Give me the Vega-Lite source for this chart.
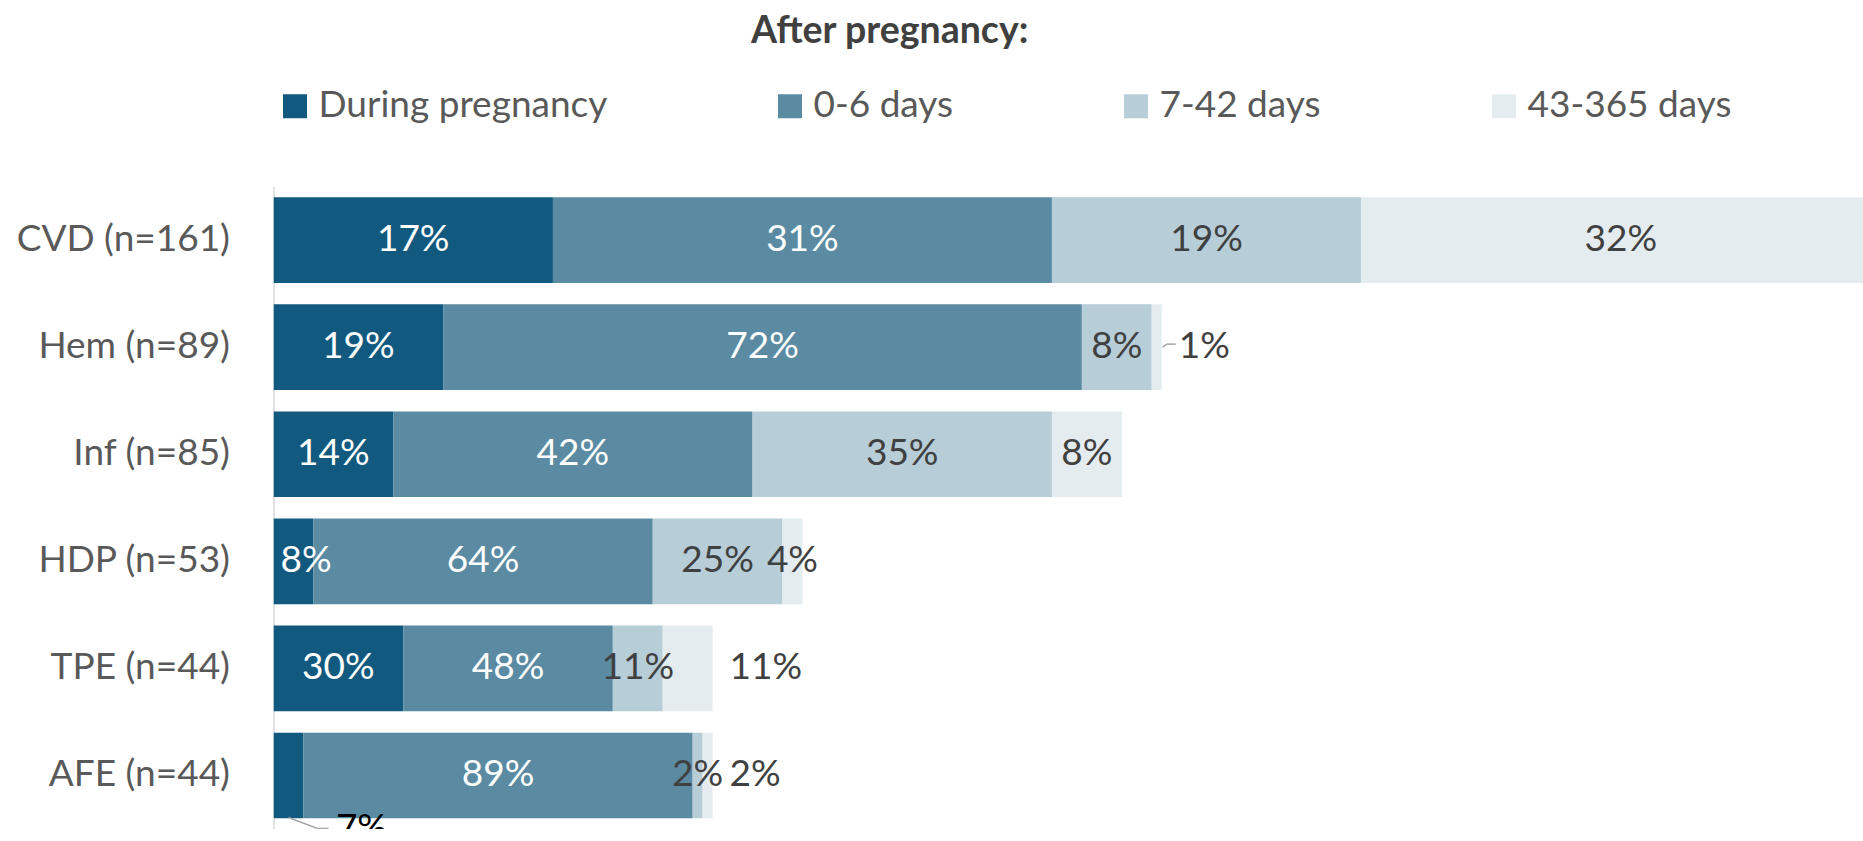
{
  "$schema": "https://vega.github.io/schema/vega-lite/v6.json",
  "width": 1589.5,
  "height": 642.5,
  "autosize": {"type": "none"},
  "padding": {"left": 273.5, "top": 186.5, "right": 0, "bottom": 0},
  "background": "white",
  "config": {"view": {"stroke": null}, "font": "Lato"},
  "title": {"text": "After pregnancy:", "anchor": "start", "frame": "group", "dx": 477.5, "offset": 37, "fontSize": 37.5, "fontWeight": "bold", "color": "#404040", "font": "Lato"},
  "data": {"values": [
    {"cause": "CVD (n=161)", "period": "During pregnancy", "order": 1, "n": 28, "label": "17%", "placement": "inside", "bg": "dark"},
    {"cause": "CVD (n=161)", "period": "0-6 days", "order": 2, "n": 50, "label": "31%", "placement": "inside", "bg": "dark"},
    {"cause": "CVD (n=161)", "period": "7-42 days", "order": 3, "n": 31, "label": "19%", "placement": "inside", "bg": "light"},
    {"cause": "CVD (n=161)", "period": "43-365 days", "order": 4, "n": 52, "label": "32%", "placement": "inside", "bg": "light"},
    {"cause": "Hem (n=89)", "period": "During pregnancy", "order": 1, "n": 17, "label": "19%", "placement": "inside", "bg": "dark"},
    {"cause": "Hem (n=89)", "period": "0-6 days", "order": 2, "n": 64, "label": "72%", "placement": "inside", "bg": "dark"},
    {"cause": "Hem (n=89)", "period": "7-42 days", "order": 3, "n": 7, "label": "8%", "placement": "inside", "bg": "light"},
    {"cause": "Hem (n=89)", "period": "43-365 days", "order": 4, "n": 1, "label": "1%", "placement": "outside", "bg": "light"},
    {"cause": "Inf (n=85)", "period": "During pregnancy", "order": 1, "n": 12, "label": "14%", "placement": "inside", "bg": "dark"},
    {"cause": "Inf (n=85)", "period": "0-6 days", "order": 2, "n": 36, "label": "42%", "placement": "inside", "bg": "dark"},
    {"cause": "Inf (n=85)", "period": "7-42 days", "order": 3, "n": 30, "label": "35%", "placement": "inside", "bg": "light"},
    {"cause": "Inf (n=85)", "period": "43-365 days", "order": 4, "n": 7, "label": "8%", "placement": "inside", "bg": "light"},
    {"cause": "HDP (n=53)", "period": "During pregnancy", "order": 1, "n": 4, "label": "8%", "placement": "start", "bg": "dark"},
    {"cause": "HDP (n=53)", "period": "0-6 days", "order": 2, "n": 34, "label": "64%", "placement": "inside", "bg": "dark"},
    {"cause": "HDP (n=53)", "period": "7-42 days", "order": 3, "n": 13, "label": "25%", "placement": "inside", "bg": "light"},
    {"cause": "HDP (n=53)", "period": "43-365 days", "order": 4, "n": 2, "label": "4%", "placement": "inside", "bg": "light"},
    {"cause": "TPE (n=44)", "period": "During pregnancy", "order": 1, "n": 13, "label": "30%", "placement": "inside", "bg": "dark"},
    {"cause": "TPE (n=44)", "period": "0-6 days", "order": 2, "n": 21, "label": "48%", "placement": "inside", "bg": "dark"},
    {"cause": "TPE (n=44)", "period": "7-42 days", "order": 3, "n": 5, "label": "11%", "placement": "inside", "bg": "light"},
    {"cause": "TPE (n=44)", "period": "43-365 days", "order": 4, "n": 5, "label": "11%", "placement": "outside", "bg": "light"},
    {"cause": "AFE (n=44)", "period": "During pregnancy", "order": 1, "n": 3, "label": "7%", "placement": "below", "bg": "dark"},
    {"cause": "AFE (n=44)", "period": "0-6 days", "order": 2, "n": 39, "label": "89%", "placement": "inside", "bg": "dark"},
    {"cause": "AFE (n=44)", "period": "7-42 days", "order": 3, "n": 1, "label": "2%", "placement": "inside", "bg": "light"},
    {"cause": "AFE (n=44)", "period": "43-365 days", "order": 4, "n": 1, "label": "2%", "placement": "outside", "bg": "light"}
  ]},
  "transform": [
    {"stack": "n", "groupby": ["cause"], "sort": [{"field": "order"}], "as": ["x0", "x1"]},
    {"calculate": "(datum.x0 + datum.x1) / 2", "as": "mid"}
  ],
  "encoding": {
    "y": {
      "field": "cause", "type": "nominal",
      "sort": ["CVD (n=161)", "Hem (n=89)", "Inf (n=85)", "HDP (n=53)", "TPE (n=44)", "AFE (n=44)"],
      "scale": {"paddingInner": 0.2, "paddingOuter": 0.1},
      "axis": {"title": null, "ticks": false, "domainColor": "#D9D9D9", "domainWidth": 1.5, "labelFontSize": 37, "labelColor": "#595959", "labelPadding": 44, "labelFont": "Lato", "labelLimit": 0}
    }
  },
  "layer": [
    {
      "mark": {"type": "bar", "clip": true},
      "encoding": {
        "x": {"field": "x0", "type": "quantitative", "scale": {"domain": [0, 159.27], "nice": false, "zero": true}, "axis": null},
        "x2": {"field": "x1"},
        "color": {
          "field": "period", "type": "nominal",
          "scale": {"domain": ["During pregnancy", "0-6 days", "7-42 days", "43-365 days"], "range": ["#12597F", "#5A8BA3", "#B7CDD8", "#E4ECF0"]},
          "legend": {"orient": "none", "legendX": 3, "legendY": -99, "direction": "horizontal", "title": null, "symbolType": "square", "symbolSize": 576, "symbolStrokeWidth": 0, "labelFontSize": 37, "labelColor": "#595959", "labelFont": "Lato", "labelOffset": 5, "columnPadding": 164, "padding": 0, "labelLimit": 0}
        }
      }
    },
    {
      "transform": [{"filter": "datum.placement == 'inside' && datum.bg == 'dark'"}],
      "mark": {"type": "text", "fontSize": 37, "color": "white", "font": "Lato", "align": "center", "baseline": "middle"},
      "encoding": {"x": {"field": "mid", "type": "quantitative"}, "text": {"field": "label"}}
    },
    {
      "transform": [{"filter": "datum.placement == 'start'"}],
      "mark": {"type": "text", "fontSize": 37, "color": "white", "font": "Lato", "align": "left", "baseline": "middle", "dx": 7},
      "encoding": {"x": {"field": "x0", "type": "quantitative"}, "text": {"field": "label"}}
    },
    {
      "transform": [{"filter": "datum.placement == 'inside' && datum.bg == 'light'"}],
      "mark": {"type": "text", "fontSize": 37, "color": "#404040", "font": "Lato", "align": "center", "baseline": "middle"},
      "encoding": {"x": {"field": "mid", "type": "quantitative"}, "text": {"field": "label"}}
    },
    {
      "transform": [{"filter": "datum.placement == 'outside'"}],
      "mark": {"type": "text", "fontSize": 37, "color": "#404040", "font": "Lato", "align": "left", "baseline": "middle", "dx": 17},
      "encoding": {"x": {"field": "x1", "type": "quantitative"}, "text": {"field": "label"}}
    },
    {
      "transform": [{"filter": "datum.placement == 'below'"}],
      "mark": {"type": "text", "fontSize": 37, "color": "#000000", "font": "Lato", "align": "center", "baseline": "middle", "dx": 73, "dy": 54},
      "encoding": {"x": {"field": "mid", "type": "quantitative"}, "text": {"field": "label"}}
    },
    {
      "transform": [{"filter": "datum.placement == 'below'"}],
      "mark": {"type": "rule", "color": "#A6A6A6", "strokeWidth": 1.5, "x2Offset": 29, "yOffset": 42, "y2Offset": 53},
      "encoding": {"x": {"field": "mid", "type": "quantitative"}, "x2": {"field": "mid"}, "y2": {"field": "cause"}}
    },
    {
      "transform": [{"filter": "datum.placement == 'below'"}],
      "mark": {"type": "rule", "color": "#A6A6A6", "strokeWidth": 1.5, "xOffset": 29, "x2Offset": 40, "yOffset": 53, "y2Offset": 53},
      "encoding": {"x": {"field": "mid", "type": "quantitative"}, "x2": {"field": "mid"}, "y2": {"field": "cause"}}
    },
    {
      "transform": [{"filter": "datum.placement == 'outside' && datum.cause == 'Hem (n=89)'"}],
      "mark": {"type": "rule", "color": "#A6A6A6", "strokeWidth": 1.5, "xOffset": 1, "x2Offset": 5, "yOffset": 0, "y2Offset": -3},
      "encoding": {"x": {"field": "x1", "type": "quantitative"}, "x2": {"field": "x1"}, "y2": {"field": "cause"}}
    },
    {
      "transform": [{"filter": "datum.placement == 'outside' && datum.cause == 'Hem (n=89)'"}],
      "mark": {"type": "rule", "color": "#A6A6A6", "strokeWidth": 1.5, "xOffset": 5, "x2Offset": 14, "yOffset": -3, "y2Offset": -3},
      "encoding": {"x": {"field": "x1", "type": "quantitative"}, "x2": {"field": "x1"}, "y2": {"field": "cause"}}
    }
  ]
}
